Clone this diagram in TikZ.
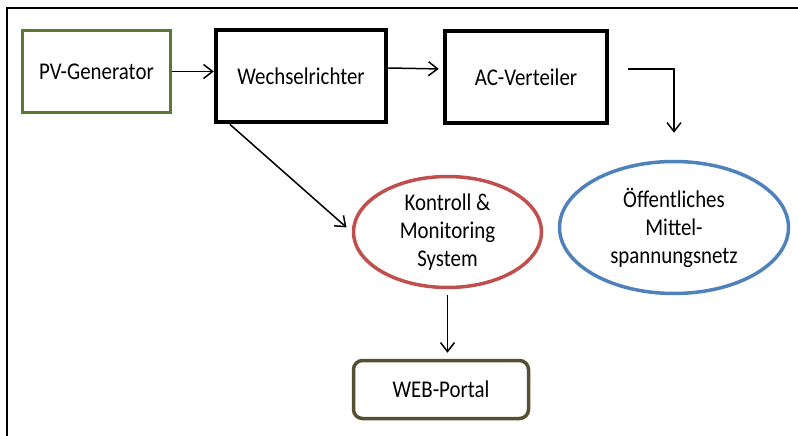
\documentclass[tikz,border=0pt]{standalone}
\usepackage{fontspec}
\setmainfont{Carlito}[FakeStretch=0.87]
\usetikzlibrary{arrows.meta}
\usetikzlibrary{shapes.geometric}
\definecolor{pvgreen}{RGB}{94,120,50}
\definecolor{kored}{RGB}{192,80,77}
\definecolor{netblue}{RGB}{79,129,189}
\definecolor{webolive}{RGB}{85,80,50}
\tikzset{blk/.style = {draw, line width=4.5pt, inner sep=0pt, align=center}}
\tikzset{oval/.style = {draw, ellipse, line width=3.5pt, inner sep=0pt, align=center}}
\tikzset{conn/.style = {->, line width=1.5pt}}

\begin{document}
\begin{tikzpicture}[x=1pt, y=-1pt, font=\fontsize{24}{28}\selectfont,
    >={Straight Barb[length=9pt,width=14pt]}]
    \useasboundingbox (0, 0) rectangle (798, 436);
    \draw [line width=2.2pt] (7, 436) -- (7, 8) -- (798, 8);

    \node [blk, draw=pvgreen, line width=3.5pt, minimum width=148, minimum height=82] (pv) at (96.5, 71.5) {PV-Generator};
    \node [blk, minimum width=170, minimum height=92] (wr) at (301, 76) {Wechselrichter};
    \node [blk, minimum width=162, minimum height=92] (ac) at (526, 77) {AC-Verteiler};
    \node [oval, draw=kored, minimum width=188, minimum height=111] (ko) at (447.5, 232) {Kontroll \&\\Monitoring\\System};
    \node [oval, draw=netblue, minimum width=229, minimum height=132] (oe) at (674, 227.5) {Öffentliches\\Mittel-\\spannungsnetz};
    \node [blk, draw=webolive, line width=3.5pt, rounded corners=9pt, minimum width=175, minimum height=58] (web) at (441, 389.5) {WEB-Portal};

    \draw [conn] (pv.east) -- (pv.east -| wr.west);
    \draw [conn, shorten >=4pt] ([yshift=8pt]wr.east) -- ([yshift=8pt]ac.west);
    \draw [conn] ([xshift=19pt, yshift=8pt]ac.east) -| ([yshift=27pt]oe.north);
    \draw [conn, shorten >=7pt] ([xshift=16pt]wr.south west) -- (ko.west);
    \draw [conn, shorten <=6pt, shorten >=6pt] (ko.south) -- (ko.south |- web.north);
  \end{tikzpicture}
\end{document}
